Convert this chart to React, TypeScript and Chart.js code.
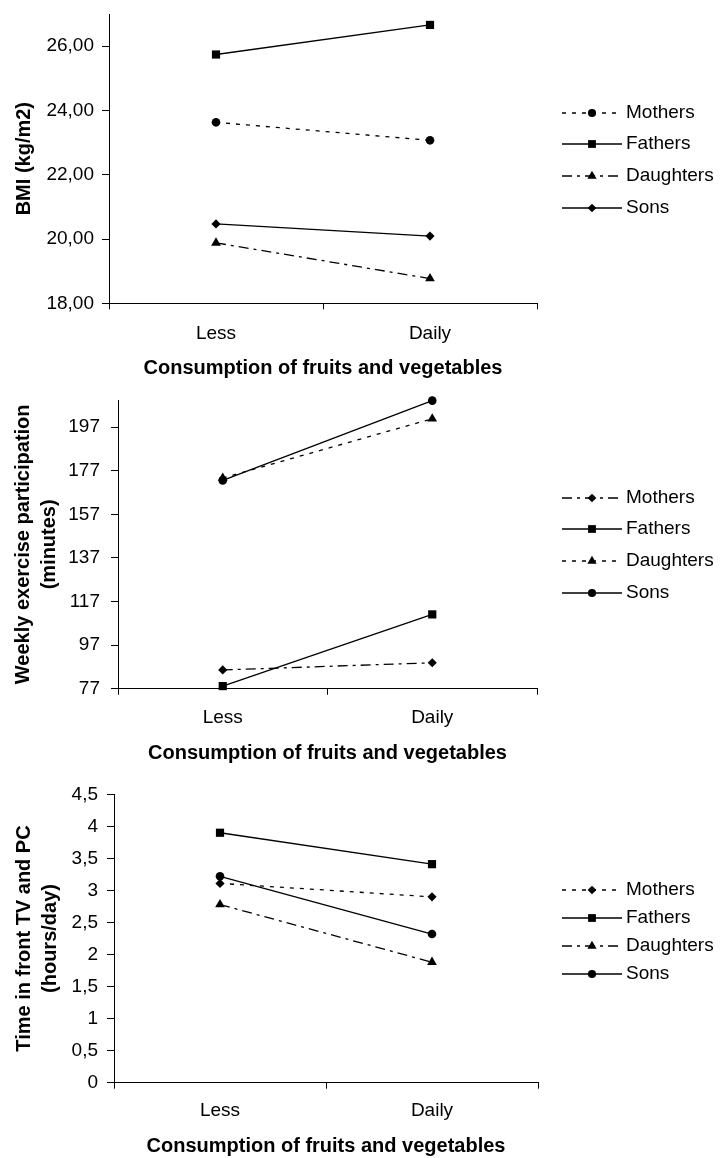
import React, { useEffect, useRef } from 'react';
import { Chart, registerables } from 'chart.js';

Chart.register(...registerables);

// ---------- data ----------
const categories = ['Less', 'Daily'];
const seriesNames = ['Mothers', 'Fathers', 'Daughters', 'Sons'];
const xTitle = 'Consumption of fruits and vegetables';

const bmiMothers = [23.63, 23.07];
const bmiFathers = [25.74, 26.66];
const bmiDaughters = [19.88, 18.77];
const bmiSons = [20.47, 20.09];
const bmiTicks = [18, 20, 22, 24, 26];

const exMothers = [85.6, 88.9];
const exFathers = [78.2, 111.1];
const exDaughters = [173.7, 200.9];
const exSons = [172.6, 209.2];
const exTicks = [77, 97, 117, 137, 157, 177, 197];

const tvMothers = [3.11, 2.9];
const tvFathers = [3.9, 3.41];
const tvDaughters = [2.78, 1.88];
const tvSons = [3.22, 2.32];
const tvTicks = [0, 0.5, 1, 1.5, 2, 2.5, 3, 3.5, 4, 4.5];

// ---------- styles ----------
const FONT = "'Liberation Sans', Arial, Helvetica, sans-serif";
const DOTTED = [4, 6];
const DASHDOT = [10, 5, 3, 5];
const SOLID: number[] = [];
const markerRadius: Record<string, number> = { circle: 4.3, rect: 5.8, triangle: 5.6, rectRot: 4.6 };

function drawMarker(ctx: CanvasRenderingContext2D, style: string, x: number, y: number, r: number) {
  ctx.beginPath();
  if (style === 'circle') {
    ctx.arc(x, y, r, 0, Math.PI * 2);
  } else if (style === 'rect') {
    const s = r * Math.SQRT1_2;
    ctx.rect(x - s, y - s, 2 * s, 2 * s);
  } else if (style === 'triangle') {
    let a = 0;
    ctx.moveTo(x + Math.sin(a) * r, y - Math.cos(a) * r);
    a += (2 * Math.PI) / 3;
    ctx.lineTo(x + Math.sin(a) * r, y - Math.cos(a) * r);
    a += (2 * Math.PI) / 3;
    ctx.lineTo(x + Math.sin(a) * r, y - Math.cos(a) * r);
    ctx.closePath();
  } else {
    ctx.moveTo(x, y - r);
    ctx.lineTo(x + r, y);
    ctx.lineTo(x, y + r);
    ctx.lineTo(x - r, y);
    ctx.closePath();
  }
  ctx.fillStyle = '#000';
  ctx.fill();
}

const sideLegend = {
  id: 'sideLegend',
  afterDraw(chart: any, _args: any, opts: any) {
    const ctx: CanvasRenderingContext2D = chart.ctx;
    ctx.save();
    chart.data.datasets.forEach((ds: any, i: number) => {
      const y = opts.ys[i];
      ctx.beginPath();
      ctx.setLineDash(ds.borderDash || []);
      ctx.lineWidth = ds.borderWidth;
      ctx.strokeStyle = ds.borderColor;
      ctx.moveTo(opts.x0, y);
      ctx.lineTo(opts.x1, y);
      ctx.stroke();
      ctx.setLineDash([]);
      drawMarker(ctx, ds.pointStyle, (opts.x0 + opts.x1) / 2, y, ds.pointRadius * 0.95);
      ctx.fillStyle = '#000';
      ctx.font = `19px ${FONT}`;
      ctx.textBaseline = 'middle';
      ctx.textAlign = 'left';
      ctx.fillText(ds.label, opts.textX, y);
    });
    ctx.restore();
  },
};

type Series = { data: number[]; dash: number[]; marker: string };

type Params = {
  h: number;
  top: number;
  bottom: number;
  left: number;
  right: number;
  min: number;
  max: number;
  ticks: number[];
  fmt: (v: number) => string;
  yTitle: string | string[];
  yTitlePad: number;
  yPad: number;
  xPad: number;
  xTitlePad: number;
  legendYs: number[];
  series: Series[];
};

function makeConfig(p: Params): any {
  return {
    type: 'line',
    data: {
      labels: categories,
      datasets: p.series.map((s, i) => ({
        label: seriesNames[i],
        data: s.data,
        borderColor: '#000',
        borderWidth: 1.3,
        borderDash: s.dash,
        pointStyle: s.marker,
        pointRadius: markerRadius[s.marker],
        pointBackgroundColor: '#000',
        pointBorderColor: '#000',
        pointBorderWidth: 0,
        fill: false,
        tension: 0,
        clip: false,
      })),
    },
    options: {
      animation: false,
      responsive: false,
      maintainAspectRatio: false,
      events: [],
      layout: { padding: { top: p.top, right: 721 - p.right, bottom: 0, left: 0 } },
      plugins: {
        legend: { display: false },
        tooltip: { enabled: false },
        sideLegend: { ys: p.legendYs, x0: 562, x1: 622, textX: 626 },
      },
      scales: {
        x: {
          type: 'category',
          offset: true,
          grid: {
            offset: true,
            drawOnChartArea: false,
            drawTicks: true,
            tickLength: 6,
            color: '#000',
            lineWidth: 1,
          },
          border: { display: true, color: '#000', width: 1 },
          ticks: {
            color: '#000',
            font: { family: FONT, size: 19 },
            padding: p.xPad,
            maxRotation: 0,
            autoSkip: false,
          },
          title: {
            display: true,
            text: xTitle,
            color: '#000',
            font: { family: FONT, size: 20, weight: 'bold', lineHeight: 1.2 },
            padding: { top: 0, bottom: p.xTitlePad },
          },
          afterFit: (s: any) => {
            s.height = p.h - p.bottom;
            s.paddingLeft = 0;
            s.paddingRight = 0;
          },
        },
        y: {
          type: 'linear',
          min: p.min,
          max: p.max,
          bounds: 'data',
          grid: {
            drawOnChartArea: false,
            drawTicks: true,
            tickLength: 7,
            color: '#000',
            lineWidth: 1,
          },
          border: { display: true, color: '#000', width: 1 },
          ticks: {
            color: '#000',
            font: { family: FONT, size: 19 },
            padding: p.yPad,
            callback: (v: any) => p.fmt(Number(v)),
          },
          afterBuildTicks: (s: any) => {
            s.ticks = p.ticks.map((v) => ({ value: v }));
          },
          title: {
            display: true,
            text: p.yTitle,
            color: '#000',
            font: { family: FONT, size: 20, weight: 'bold', lineHeight: 1.33 },
            padding: { top: p.yTitlePad, bottom: 0 },
          },
          afterFit: (s: any) => {
            s.width = p.left;
            s.paddingTop = 0;
            s.paddingBottom = 0;
          },
        },
      },
    },
    plugins: [sideLegend],
  };
}

const charts: Params[] = [
  {
    h: 385,
    top: 14,
    bottom: 303.3,
    left: 109,
    right: 537,
    min: 18,
    max: 27,
    ticks: bmiTicks,
    fmt: (v) => v.toFixed(2).replace('.', ','),
    yTitle: 'BMI (kg/m2)',
    yTitlePad: 10.7,
    yPad: 8,
    xPad: 13,
    xTitlePad: 5,
    legendYs: [113, 144, 176, 208],
    series: [
      { data: bmiMothers, dash: DOTTED, marker: 'circle' },
      { data: bmiFathers, dash: SOLID, marker: 'rect' },
      { data: bmiDaughters, dash: DASHDOT, marker: 'triangle' },
      { data: bmiSons, dash: SOLID, marker: 'rectRot' },
    ],
  },
  {
    h: 385,
    top: 15,
    bottom: 303.7,
    left: 118,
    right: 537,
    min: 77,
    max: 209.5,
    ticks: exTicks,
    fmt: (v) => String(v),
    yTitle: ['Weekly exercise participation', '(minutes)'],
    yTitlePad: 10,
    yPad: 11,
    xPad: 12,
    xTitlePad: 5,
    legendYs: [113, 144, 176, 208],
    series: [
      { data: exMothers, dash: DASHDOT, marker: 'rectRot' },
      { data: exFathers, dash: SOLID, marker: 'rect' },
      { data: exDaughters, dash: DOTTED, marker: 'triangle' },
      { data: exSons, dash: SOLID, marker: 'circle' },
    ],
  },
  {
    h: 388,
    top: 24.3,
    bottom: 312.7,
    left: 114,
    right: 538,
    min: 0,
    max: 4.5,
    ticks: tvTicks,
    fmt: (v) => String(v).replace('.', ','),
    yTitle: ['Time in front TV and PC', '(hours/day)'],
    yTitlePad: 10.7,
    yPad: 9,
    xPad: 11,
    xTitlePad: 0,
    legendYs: [120, 148, 176, 204],
    series: [
      { data: tvMothers, dash: DOTTED, marker: 'rectRot' },
      { data: tvFathers, dash: SOLID, marker: 'rect' },
      { data: tvDaughters, dash: DASHDOT, marker: 'triangle' },
      { data: tvSons, dash: SOLID, marker: 'circle' },
    ],
  },
];

function LineChart({ p }: { p: Params }) {
  const ref = useRef<HTMLCanvasElement | null>(null);
  useEffect(() => {
    if (!ref.current) return;
    const chart = new Chart(ref.current, makeConfig(p));
    return () => chart.destroy();
  }, [p]);
  return <canvas ref={ref} width={721} height={p.h} style={{ display: 'block', width: 721, height: p.h }} />;
}

export default function App() {
  useEffect(() => {
    document.body.style.margin = '0';
  }, []);
  return (
    <div style={{ position: 'absolute', left: 0, top: 0, width: 721, height: 1158, background: '#fff' }}>
      {charts.map((p, i) => (
        <LineChart key={i} p={p} />
      ))}
    </div>
  );
}
